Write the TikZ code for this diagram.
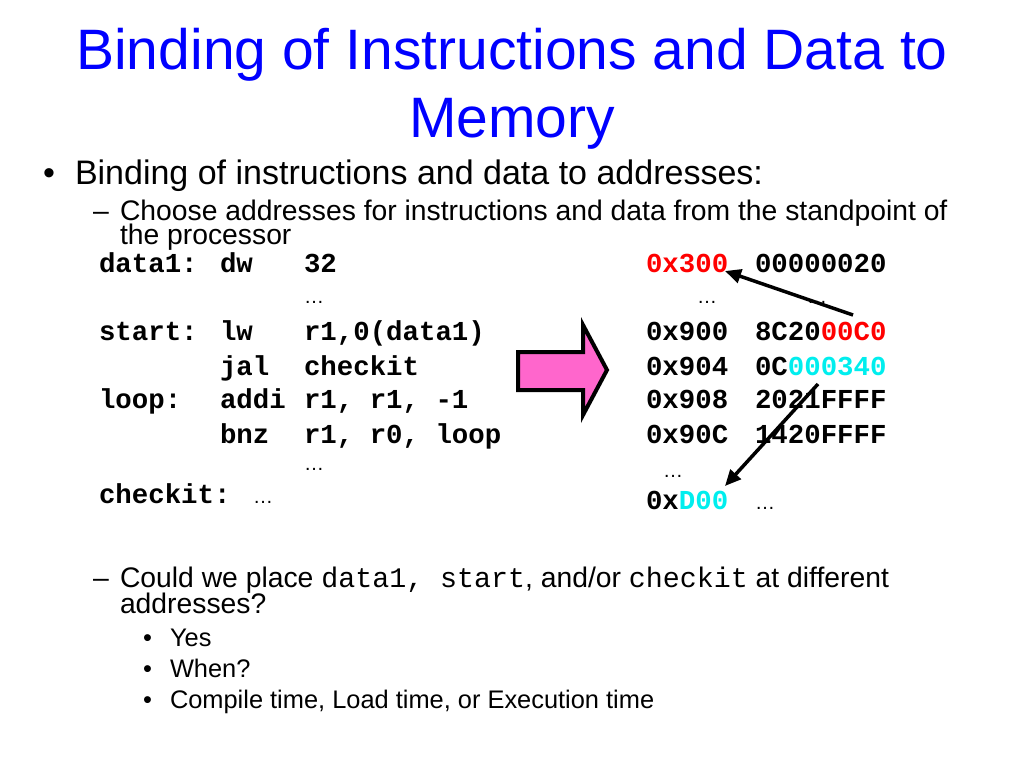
\documentclass[tikz,border=0pt]{standalone}
\usepackage{fontspec}
\setmainfont{Liberation Sans}
\newfontfamily\codefont{Liberation Mono}
\usetikzlibrary{arrows.meta}
\definecolor{titleblue}{HTML}{0000FF}
\definecolor{hotpink}{HTML}{FF66CC}
\definecolor{addrred}{HTML}{FF0000}
\definecolor{addrcyan}{HTML}{00EEEE}
\begin{document}
\begin{tikzpicture}[x=1pt,y=-1pt,
  txt/.style={anchor=base west, inner sep=0pt, outer sep=0pt},
  titletxt/.style={anchor=base, inner sep=0pt, font=\fontsize{57}{60}\selectfont, text=titleblue},
  lvlone/.style={txt, font=\fontsize{34}{36}\selectfont},
  lvltwo/.style={txt, font=\fontsize{28.3}{30}\selectfont},
  lvlthree/.style={txt, font=\fontsize{25.4}{27}\selectfont},
  code/.style={txt, font=\codefont\bfseries\fontsize{27.4}{28}\selectfont},
  dots/.style={txt, font=\fontsize{20}{22}\selectfont},
  ptr/.style={line width=3.5pt, -{Triangle[length=16pt,width=14pt]}},
  bigarrow/.style={fill=hotpink, draw=black, line width=4pt, line join=miter},
]
\useasboundingbox (0,0) rectangle (1024,768);
\fill[white] (0,0) rectangle (1024,768);

% title
\node[titletxt] (t1) at (512,70) {Binding of Instructions and Data to};
\node[titletxt] (t2) at (512,137) {Memory};

% bullets
\node[lvlone] (b1) at (43,184) {•};
\node[lvlone] (b1t) at (75,184) {Binding of instructions and data to addresses:};
\node[lvltwo] (d1) at (93,220) {–};
\node[lvltwo] (d1t) at (120,220) {Choose addresses for instructions and data from the standpoint of};
\node[lvltwo] (d1u) at (120,244) {the processor};

% code listing
\node[code] (l1) at (99,272) {data1:};
\node[code] (o1) at (220,272) {dw};
\node[code] (a1) at (304,272) {32};
\node[dots] (dl1) at (304,303) {…};
\node[code] (l2) at (99,340) {start:};
\node[code] (o2) at (220,340) {lw};
\node[code] (a2) at (304,340) {r1,0(data1)};
\node[code] (o3) at (220,375) {jal};
\node[code] (a3) at (304,375) {checkit};
\node[code] (l4) at (99,408) {loop:};
\node[code] (o4) at (220,408) {addi};
\node[code] (a4) at (304,408) {r1, r1, -1};
\node[code] (o5) at (220,443) {bnz};
\node[code] (a5) at (304,443) {r1, r0, loop};
\node[dots] (dl2) at (304,470) {…};
\node[code] (l6) at (99,503) {checkit:};
\node[dots] (dl3) at (253,503) {…};

% big arrow
\draw[bigarrow] (518,352) -- (583,352) -- (583,325) -- (607,370) -- (583,415) -- (583,390) -- (518,390) -- cycle;

% memory image
\node[code, text=addrred] (m1) at (646,272) {0x300};
\node[code] (v1) at (755,272) {00000020};
\node[dots] (dm1) at (697,303) {…};
\node[dots] (dv1) at (807,303) {…};
\node[code] (m2) at (646,340) {0x900};
\node[code] (v2) at (755,340) {8C20\textcolor{addrred}{00C0}};
\node[code] (m3) at (646,375) {0x904};
\node[code] (v3) at (755,375) {0C\textcolor{addrcyan}{000340}};
\node[code] (m4) at (646,408) {0x908};
\node[code] (v4) at (755,408) {2021FFFF};
\node[code] (m5) at (646,443) {0x90C};
\node[code] (v5) at (755,443) {1420FFFF};
\node[dots] (dm2) at (663,477) {…};
\node[code] (m6) at (646,509) {0x\textcolor{addrcyan}{D00}};
\node[dots] (dv6) at (755,509) {…};

\coordinate (p1s) at (853,315);
\coordinate (p1e) at (725,271);
\coordinate (p2s) at (818,384);
\coordinate (p2e) at (725,486);
\draw[ptr] (p1s) -- (p1e);
\draw[ptr] (p2s) -- (p2e);

% bottom
\node[lvltwo] (d2) at (93,587) {–};
\node[lvltwo] (d2t) at (120,587) {Could we place {\codefont data1, }{\codefont start}, and/or {\codefont checkit} at different};
\node[lvltwo] (d2u) at (120,613) {addresses?};
\node[lvlthree] (s1) at (143,646) {•};
\node[lvlthree] (s1t) at (170,646) {Yes};
\node[lvlthree] (s2) at (143,677) {•};
\node[lvlthree] (s2t) at (170,677) {When?};
\node[lvlthree] (s3) at (143,708) {•};
\node[lvlthree] (s3t) at (170,708) {Compile time, Load time, or Execution time};
\end{tikzpicture}
\end{document}
